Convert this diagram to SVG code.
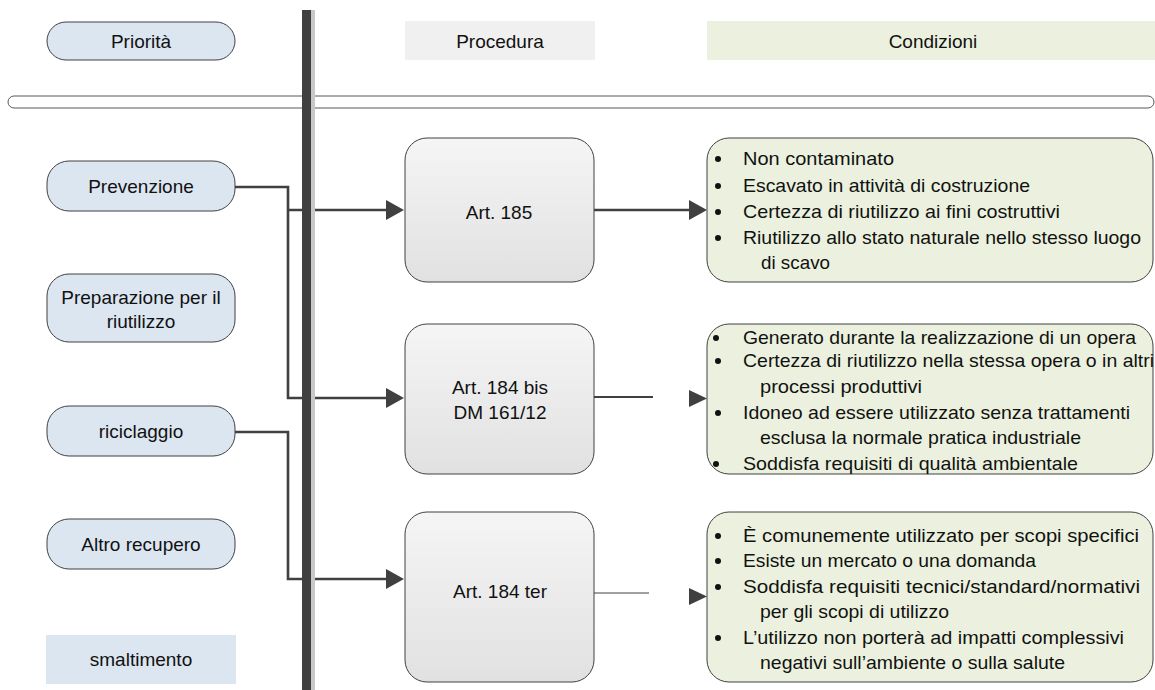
<svg xmlns="http://www.w3.org/2000/svg" width="1155" height="690" viewBox="0 0 1155 690">
<defs>
<style>
text{font-family:"Liberation Sans",Arial,sans-serif;font-size:19px;fill:#111}
.c{text-anchor:middle}
.pill{fill:#dce6f1;stroke:#404040;stroke-width:1}
.art{fill:url(#g);stroke:#404040;stroke-width:1}
.cond{fill:#ebf1de;stroke:#404040;stroke-width:1}
.ln{fill:none;stroke:#404040;stroke-width:2.6}
.ah{fill:#404040}
.b{fill:#111}
</style>
<linearGradient id="g" x1="0" y1="0" x2="0" y2="1">
<stop offset="0" stop-color="#f5f5f5"/>
<stop offset="1" stop-color="#e1e1e1"/>
</linearGradient>
</defs>
<rect width="1155" height="690" fill="#fff"/>

<!-- header lane -->
<rect x="8" y="96" width="1146" height="12" rx="6" fill="#fff" stroke="#595959" stroke-width="1"/>

<g id="connectors">
<path class="ln" d="M235 187 H288 V398 H388"/>
<path class="ln" d="M288 210 H388"/>
<path class="ln" d="M235 432 H288 V579 H388"/>
<polygon class="ah" points="386,200 404,210 386,220"/>
<polygon class="ah" points="386,388 404,398 386,408"/>
<polygon class="ah" points="386,569 404,579 386,589"/>
<path class="ln" d="M594 210 H691"/>
<polygon class="ah" points="689,200 707,210 689,220"/>
<path fill="none" stroke="#404040" stroke-width="2" d="M594 397 H653"/>
<polygon class="ah" points="689,390 707,398.5 689,407"/>
<path fill="none" stroke="#404040" stroke-width="1" d="M594 593 H649"/>
<polygon class="ah" points="689,588 707,596.5 689,605"/>
</g>

<!-- vertical separator -->
<rect x="311" y="10" width="4" height="680" fill="#c8c8c8"/>
<rect x="302" y="10" width="9" height="680" fill="#404040"/>

<g id="priorita"><rect class="pill" x="47" y="22" width="188" height="38" rx="19"/><text class="c" x="141" y="48">Priorità</text></g>
<g id="procedura"><rect x="405" y="21" width="190" height="39" fill="#f0f0f0"/><text class="c" x="500" y="48">Procedura</text></g>
<g id="condizioni"><rect x="707" y="21" width="448" height="39" fill="#ebf1de"/><text class="c" x="933" y="48">Condizioni</text></g>

<g id="prevenzione"><rect class="pill" x="47" y="161" width="188" height="50" rx="22"/><text class="c" x="141" y="193">Prevenzione</text></g>
<g id="preparazione"><rect class="pill" x="47" y="274" width="188" height="68" rx="22"/><text class="c" x="141" y="304">Preparazione per il</text><text class="c" x="141" y="328">riutilizzo</text></g>
<g id="riciclaggio"><rect class="pill" x="47" y="406" width="188" height="50" rx="22"/><text class="c" x="141" y="438">riciclaggio</text></g>
<g id="altro-recupero"><rect class="pill" x="47" y="519" width="188" height="50" rx="22"/><text class="c" x="141" y="551">Altro recupero</text></g>
<g id="smaltimento"><rect x="46" y="635" width="190" height="49" fill="#dce6f1"/><text class="c" x="141" y="666">smaltimento</text></g>

<g id="art185"><rect class="art" x="405" y="138" width="189" height="144" rx="22"/><text class="c" x="499" y="219">Art. 185</text></g>
<g id="art184bis"><rect class="art" x="405" y="324" width="189" height="150" rx="22"/><text class="c" x="500" y="394">Art. 184 bis</text><text class="c" x="500" y="419">DM 161/12</text></g>
<g id="art184ter"><rect class="art" x="405" y="512" width="189" height="170" rx="22"/><text class="c" x="500" y="598">Art. 184 ter</text></g>

<g id="cond185">
<rect class="cond" x="707" y="138" width="446" height="144" rx="22"/>
<circle class="b" cx="718" cy="159" r="3"/><circle class="b" cx="718" cy="186" r="3"/><circle class="b" cx="718" cy="212" r="3"/><circle class="b" cx="718" cy="238" r="3"/>
<text x="743" y="165" textLength="151" lengthAdjust="spacingAndGlyphs">Non contaminato</text>
<text x="743" y="192" textLength="287" lengthAdjust="spacingAndGlyphs">Escavato in attività di costruzione</text>
<text x="743" y="218" textLength="317" lengthAdjust="spacingAndGlyphs">Certezza di riutilizzo ai fini costruttivi</text>
<text x="743" y="244" textLength="398" lengthAdjust="spacingAndGlyphs">Riutilizzo allo stato naturale nello stesso luogo</text>
<text x="761" y="269" textLength="69" lengthAdjust="spacingAndGlyphs">di scavo</text>
</g>

<g id="cond184bis">
<rect class="cond" x="707" y="324" width="446" height="150" rx="22"/>
<circle class="b" cx="716" cy="338" r="3"/><circle class="b" cx="718" cy="361" r="3"/><circle class="b" cx="718" cy="413" r="3"/><circle class="b" cx="716" cy="464" r="3"/>
<text x="743" y="344" textLength="393" lengthAdjust="spacingAndGlyphs">Generato durante la realizzazione di un opera</text>
<text x="743" y="367" textLength="411" lengthAdjust="spacingAndGlyphs">Certezza di riutilizzo nella stessa opera o in altri</text>
<text x="760" y="393" textLength="162" lengthAdjust="spacingAndGlyphs">processi produttivi</text>
<text x="743" y="419" textLength="387" lengthAdjust="spacingAndGlyphs">Idoneo ad essere utilizzato senza trattamenti</text>
<text x="760" y="444" textLength="321" lengthAdjust="spacingAndGlyphs">esclusa la normale pratica industriale</text>
<text x="743" y="470" textLength="335" lengthAdjust="spacingAndGlyphs">Soddisfa requisiti di qualità ambientale</text>
</g>

<g id="cond184ter">
<rect class="cond" x="707" y="512" width="446" height="170" rx="22"/>
<circle class="b" cx="718" cy="536" r="3"/><circle class="b" cx="718" cy="561" r="3"/><circle class="b" cx="718" cy="587" r="3"/><circle class="b" cx="718" cy="638" r="3"/>
<text x="743" y="542" textLength="396" lengthAdjust="spacingAndGlyphs">È comunemente utilizzato per scopi specifici</text>
<text x="743" y="567" textLength="293" lengthAdjust="spacingAndGlyphs">Esiste un mercato o una domanda</text>
<text x="743" y="593" textLength="397" lengthAdjust="spacingAndGlyphs">Soddisfa requisiti tecnici/standard/normativi</text>
<text x="760" y="618" textLength="189" lengthAdjust="spacingAndGlyphs">per gli scopi di utilizzo</text>
<text x="743" y="644" textLength="381" lengthAdjust="spacingAndGlyphs">L’utilizzo non porterà ad impatti complessivi</text>
<text x="760" y="669" textLength="305" lengthAdjust="spacingAndGlyphs">negativi sull’ambiente o sulla salute</text>
</g>
</svg>
